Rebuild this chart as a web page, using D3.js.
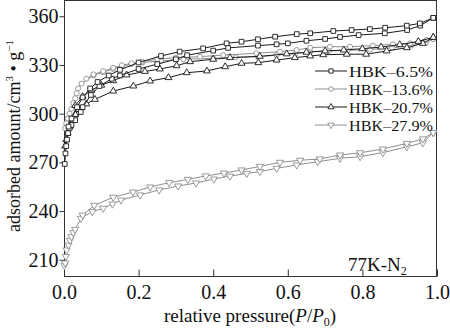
<!DOCTYPE html>
<html><head><meta charset="utf-8">
<script src="https://cdn.jsdelivr.net/npm/d3@7"></script>
<style>body{margin:0;background:#fff}svg{display:block}text{font-family:"Liberation Serif","Times New Roman",serif;fill:#111}</style>
</head><body><svg id="c" width="450" height="328"></svg>
<script>
const xTicks = [0.0, 0.2, 0.4, 0.6, 0.8, 1.0];
const yTicks = [210, 240, 270, 300, 330, 360];
const seriesNames = ["HBK\u20136.5%", "HBK\u201313.6%", "HBK\u201320.7%", "HBK\u201327.9%"];

// HBK-6.5% (adsorption / desorption)
const s1AdsX = [0.002,0.004,0.006,0.008,0.011,0.015,0.02,0.03,0.045,0.05,0.072,0.095,0.128,0.15,0.2,0.25,0.3,0.33,0.4,0.44,0.52,0.57,0.6,0.65,0.7,0.74,0.79,0.86,0.92,0.955,0.99];
const s1AdsY = [269,275.5,280,284,288,291,293,296,301,304,311.5,317,321.5,323.5,327.5,330.5,333.5,336,338.8,340.5,341.9,342.7,343.3,344.9,346,347.2,348.4,349.5,351.5,354.2,359];
const s1DesX = [0.99,0.954,0.919,0.861,0.82,0.771,0.722,0.66,0.624,0.566,0.52,0.476,0.436,0.373,0.31,0.26,0.2,0.15,0.12,0.09,0.07,0.05,0.035,0.02,0.012];
const s1DesY = [359,355.6,354.2,352.9,352.1,351.5,350.9,349.5,349,347.4,345.8,344.3,343.3,340.2,338.2,335.5,331.5,327,323.5,319.5,315.5,310,304,297,292];

// HBK-13.6%
const s2AdsX = [0.003,0.006,0.01,0.015,0.02,0.025,0.03,0.034,0.038,0.047,0.079,0.105,0.132,0.155,0.18,0.21,0.26,0.32,0.4,0.46,0.52,0.57,0.62,0.66,0.71,0.76,0.82,0.88,0.93,0.97,0.99];
const s2AdsY = [291,294,297,300,303,306.5,309.5,312.5,315.5,318.5,323.5,325.5,327.5,329,330.5,331.5,332.5,333.5,334.1,334.7,335.1,336,337,338.2,338.6,339,339.5,340.6,341.9,343.5,346];
const s2DesX = [0.99,0.972,0.928,0.882,0.828,0.767,0.713,0.66,0.624,0.579,0.516,0.427,0.365,0.3,0.25,0.208,0.181,0.155,0.132,0.105,0.079,0.06];
const s2DesY = [346,345.4,343.3,342.7,341.9,341.2,341.2,340.6,339.2,338.2,337.2,336.1,335.1,334.5,333.5,332,331,329.8,328.2,326.2,324.2,321.5];

// HBK-20.7%
const s3AdsX = [0.003,0.006,0.01,0.015,0.022,0.03,0.04,0.06,0.083,0.132,0.186,0.231,0.28,0.329,0.383,0.432,0.476,0.521,0.57,0.619,0.66,0.695,0.758,0.81,0.865,0.919,0.962,0.99];
const s3AdsY = [280,284,288,292,296,299.5,302.5,306,308.8,313.9,317,320.1,322.2,325.2,326.3,328.9,331,331.4,333,334.5,335.5,336.3,336.6,336.6,338.6,340.6,343.3,347];
const s3DesX = [0.99,0.95,0.9,0.85,0.8,0.75,0.7,0.65,0.597,0.525,0.445,0.4,0.338,0.302,0.257,0.217,0.168,0.132,0.1,0.074,0.05,0.03];
const s3DesY = [347,344.5,342.5,341,340,339.2,338.6,337.8,336.8,335.3,334.5,333.5,332,329.5,327.5,326,323.8,320.3,317.5,314.5,310.5,305];

// HBK-27.9%
const s4AdsX = [0.001,0.003,0.005,0.007,0.012,0.016,0.02,0.025,0.03,0.045,0.076,0.105,0.13,0.153,0.204,0.255,0.306,0.354,0.402,0.445,0.49,0.525,0.57,0.624,0.68,0.74,0.794,0.855,0.919,0.962,0.99];
const s4AdsY = [206.4,208,212,216,219,222,224.2,226.7,228.7,235.5,239.6,241.7,244.3,246.8,249.9,253,255.4,257.3,259.7,261.5,263.2,264.3,266.3,268.4,270.4,272.5,273.5,276,279.6,282,288.3];
const s4DesX = [0.99,0.962,0.919,0.855,0.794,0.74,0.686,0.633,0.579,0.525,0.476,0.429,0.38,0.332,0.282,0.231,0.185,0.132,0.081,0.05];
const s4DesY = [288.3,284.4,281.7,278.2,275.9,274.5,272.1,271.3,270,267.5,265.3,263.4,261.6,259.5,257.5,254.8,251.7,248.5,243.5,237.5];

const svg = d3.select("#c");
const L = 64, R = 437, T = 0, B = 276;
const x = d3.scaleLinear().domain([0, 1]).range([L, R]);
const y = d3.scaleLinear().domain([200, 370]).range([B, T]);

const styles = [
  {color:"#1a1a1a", sym:d3.symbolSquare, size:22},
  {color:"#8f8f8f", sym:d3.symbolCircle, size:20},
  {color:"#1a1a1a", sym:d3.symbolTriangle, size:20, rot:0},
  {color:"#8f8f8f", sym:d3.symbolTriangle, size:22, rot:180}
];
const seriesData = [
  [[s1AdsX,s1AdsY],[s1DesX,s1DesY]],
  [[s2AdsX,s2AdsY],[s2DesX,s2DesY]],
  [[s3AdsX,s3AdsY],[s3DesX,s3DesY]],
  [[s4AdsX,s4AdsY],[s4DesX,s4DesY]]
];

// frame
svg.append("rect").attr("x", L+0.5).attr("y", T+0.5).attr("width", R-L-1).attr("height", B-T)
  .attr("fill","none").attr("stroke","#333").attr("stroke-width",1);

// axes
const xAxis = d3.axisBottom(x).tickValues(xTicks).tickSize(-7).tickPadding(8).tickFormat(d3.format(".1f"));
const gx = svg.append("g").attr("transform",`translate(0,${B+0.5})`).call(xAxis);
gx.select(".domain").remove();
gx.selectAll("line").attr("stroke","#333");
gx.selectAll("text").attr("font-size",20).attr("font-family",'"Liberation Serif",serif').attr("fill","#111");

const yAxis = d3.axisLeft(y).tickValues(yTicks).tickSize(5).tickPadding(1);
const gy = svg.append("g").attr("transform",`translate(${L+0.5},0)`).call(yAxis);
gy.select(".domain").remove();
gy.selectAll("line").attr("stroke","#333");
gy.selectAll("text").attr("font-size",20).attr("font-family",'"Liberation Serif",serif').attr("fill","#111");

const line = d3.line().x(d=>x(d[0])).y(d=>y(d[1]));
const order = [3,1,2,0];
order.forEach(i=>{
  const st = styles[i];
  const g = svg.append("g");
  seriesData[i].forEach(([xs,ys])=>{
    const pts = xs.map((v,k)=>[v, ys[k]]);
    g.append("path").datum(pts).attr("d", line).attr("fill","none").attr("stroke", st.color).attr("stroke-width",1);
    g.selectAll(null).data(pts).enter().append("path")
      .attr("d", d3.symbol().type(st.sym).size(st.size))
      .attr("transform", d=>`translate(${x(d[0])},${y(d[1])})${st.rot?` rotate(${st.rot})`:""}`)
      .attr("fill","#fff").attr("stroke", st.color).attr("stroke-width",0.9);
  });
});

// legend
const lg = svg.append("g");
seriesNames.forEach((name,i)=>{
  const st = styles[i];
  const yy = 71 + i*18;
  lg.append("line").attr("x1",315).attr("x2",347).attr("y1",yy).attr("y2",yy).attr("stroke",st.color).attr("stroke-width",1);
  lg.append("path").attr("d", d3.symbol().type(st.sym).size(st.size*0.8))
    .attr("transform",`translate(331,${yy})${st.rot?` rotate(${st.rot})`:""}`)
    .attr("fill","#fff").attr("stroke",st.color).attr("stroke-width",0.9);
  lg.append("text").attr("x",349).attr("y",yy+5.5).attr("font-size",15.5)
    .attr("textLength",84).attr("lengthAdjust","spacingAndGlyphs").text(name);
});

// annotation
const ann = svg.append("text").attr("x",348).attr("y",271).attr("font-size",19);
ann.append("tspan").text("77K-N");
ann.append("tspan").attr("font-size",12).attr("dy",4).text("2");

// axis titles
const xt = svg.append("text").attr("x",250).attr("y",322).attr("text-anchor","middle").attr("font-size",19);
xt.append("tspan").text("relative pressure(");
xt.append("tspan").attr("font-style","italic").text("P");
xt.append("tspan").text("/");
xt.append("tspan").attr("font-style","italic").text("P");
xt.append("tspan").attr("font-size",12).attr("dy",4).text("0");
xt.append("tspan").attr("dy",-4).text(")");

const yt = svg.append("text").attr("transform","translate(20,136) rotate(-90)").attr("text-anchor","middle").attr("font-size",18);
yt.append("tspan").text("adsorbed amount/cm");
yt.append("tspan").attr("font-size",11).attr("dy",-7).text("3");
yt.append("tspan").attr("dy",7).text(" \u2022 g");
yt.append("tspan").attr("font-size",11).attr("dy",-7).text("\u22121");
</script></body></html>
